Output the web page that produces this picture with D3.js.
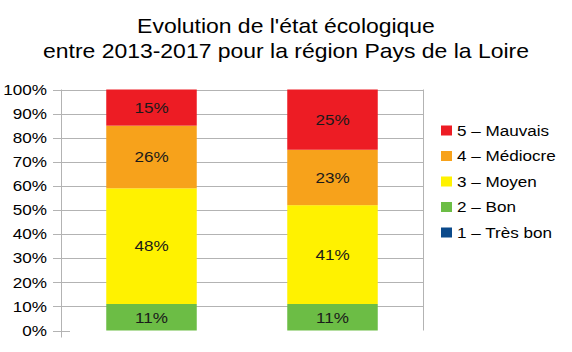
<!DOCTYPE html>
<html>
<head>
<meta charset="utf-8">
<script src="https://cdn.jsdelivr.net/npm/d3@7"></script>
<style>
  body { margin: 0; background: #fff; }
  svg { display: block; font-family: "Liberation Sans", Arial, sans-serif; }
</style>
</head>
<body>
<svg width="572" height="352"></svg>
<script>
const periods = ['2013', '2017'];
const classes = ['1 – Très bon', '2 – Bon', '3 – Moyen', '4 – Médiocre', '5 – Mauvais'];
const tresBon = [0, 0];
const bon = [11, 11];
const moyen = [48, 41];
const mediocre = [26, 23];
const mauvais = [15, 25];
const yTicks = [0, 10, 20, 30, 40, 50, 60, 70, 80, 90, 100];
const colors = ['#0b4a8b', '#6cbd45', '#fff200', '#f7a21b', '#ed1c24'];

const seriesValues = [tresBon, bon, moyen, mediocre, mauvais];
const rows = periods.map((p, i) => {
  const r = {period: p};
  classes.forEach((c, k) => { r[c] = seriesValues[k][i]; });
  return r;
});

// text in the reference is stretched horizontally
const SX = 1.14;

const plot = {left: 61, right: 423, top: 89.5, bottom: 330.5};

const svg = d3.select('svg');

const xScale = d3.scaleBand().domain(periods).range([plot.left, plot.right]).paddingInner(0.5).paddingOuter(0.25);
const yScale = d3.scaleLinear().domain([0, 100]).range([plot.bottom, plot.top]);
const color = d3.scaleOrdinal().domain(classes).range(colors);

// title
const title = svg.append('g').attr('fill', '#000').style('font-size', '20.5px');
[['Evolution de l\'état écologique', 33], ['entre 2013-2017 pour la région Pays de la Loire', 58]].forEach(function(t) {
  title.append('g')
    .attr('transform', `translate(286, ${t[1]}) scale(1.12,1)`)
    .append('text')
    .attr('text-anchor', 'middle')
    .text(t[0]);
});

// grid
svg.append('g')
  .selectAll('line')
  .data(yTicks.filter(d => d > 0))
  .join('line')
  .attr('x1', plot.left).attr('x2', plot.right)
  .attr('y1', d => Math.round(yScale(d)) + 0.5).attr('y2', d => Math.round(yScale(d)) + 0.5)
  .attr('stroke', '#b3b3b3');

svg.append('line')
  .attr('x1', plot.right + 0.5).attr('x2', plot.right + 0.5)
  .attr('y1', plot.top).attr('y2', plot.bottom)
  .attr('stroke', '#b3b3b3');

// stacked bars
const stacked = d3.stack().keys(classes)(rows);

const layers = svg.append('g')
  .selectAll('g')
  .data(stacked)
  .join('g')
  .attr('fill', d => color(d.key));

layers.selectAll('rect')
  .data(d => d)
  .join('rect')
  .attr('x', d => xScale(d.data.period))
  .attr('width', xScale.bandwidth())
  .attr('y', d => yScale(d[1]))
  .attr('height', d => yScale(d[0]) - yScale(d[1]));

// value labels
layers.selectAll('g.lbl')
  .data(d => d.filter(s => s[1] - s[0] > 0))
  .join('g')
  .attr('class', 'lbl')
  .attr('transform', d => `translate(${xScale(d.data.period) + xScale.bandwidth() / 2}, ${(yScale(d[0]) + yScale(d[1])) / 2}) scale(${SX},1)`)
  .append('text')
  .attr('text-anchor', 'middle')
  .attr('dy', '0.35em')
  .attr('fill', '#1a1a1a')
  .style('font-size', '15px')
  .text(d => `${d[1] - d[0]}%`);

// y axis
const axisG = svg.append('g').attr('stroke', '#b3b3b3');
axisG.append('line')
  .attr('x1', plot.left + 0.5).attr('x2', plot.left + 0.5)
  .attr('y1', plot.top).attr('y2', plot.bottom + 7);
axisG.selectAll('line.tick')
  .data(yTicks)
  .join('line')
  .attr('class', 'tick')
  .attr('x1', 53)
  .attr('x2', d => d === 0 ? 70 : plot.left)
  .attr('y1', d => Math.round(yScale(d)) + 0.5).attr('y2', d => Math.round(yScale(d)) + 0.5);

svg.append('g')
  .selectAll('g')
  .data(yTicks)
  .join('g')
  .attr('transform', d => `translate(47, ${yScale(d)}) scale(${SX},1)`)
  .append('text')
  .attr('text-anchor', 'end')
  .attr('dy', '0.35em')
  .attr('fill', '#000')
  .style('font-size', '15px')
  .text(d => `${d}%`);

// legend
const legend = svg.append('g')
  .selectAll('g')
  .data(classes.slice().reverse())
  .join('g')
  .attr('transform', (d, i) => `translate(441, ${130.5 + i * 25.5})`);

legend.append('rect')
  .attr('x', 0).attr('y', -5)
  .attr('width', 11).attr('height', 10)
  .attr('fill', d => color(d));

legend.append('g')
  .attr('transform', `translate(16, 0) scale(${SX},1)`)
  .append('text')
  .attr('dy', '0.35em')
  .attr('fill', '#000')
  .style('font-size', '15px')
  .text(d => d);
</script>
</body>
</html>
